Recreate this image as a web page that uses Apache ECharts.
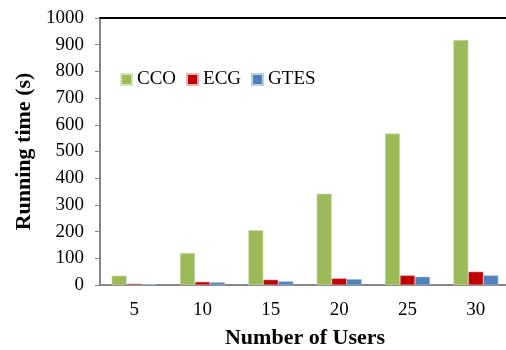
<!DOCTYPE html>
<html>
<head>
<meta charset="utf-8">
<script src="https://cdn.jsdelivr.net/npm/echarts@6/dist/echarts.min.js"></script>
<style>
  html, body { margin: 0; padding: 0; background: #fff; }
  #chart { width: 506px; height: 350px; }
</style>
</head>
<body>
<div id="chart"></div>
<script>
  /** Data */
  var users = ['5', '10', '15', '20', '25', '30'];
  var cco = [35, 120, 205, 342, 567, 918];
  var ecg = [5, 12, 20, 25, 36, 50];
  var gtes = [3, 10, 14, 22, 31, 36];

  var font = 'Liberation Serif';

  /** Chart */
  var chart = echarts.init(document.getElementById('chart'));
  var option = {
    animation: false,
    textStyle: { fontFamily: font },
    grid: { left: 100, top: 18, width: 410, height: 267, outerBoundsMode: 'none', containLabel: false },
    legend: {
      left: 115,
      top: 65,
      itemWidth: 11,
      itemHeight: 11,
      itemGap: 10,
      icon: 'rect',
      textStyle: { fontFamily: font, fontSize: 19, color: '#000' },
      data: ['CCO', 'ECG', 'GTES']
    },
    xAxis: [
      {
        type: 'category',
        data: users,
        name: 'Number of Users',
        nameLocation: 'middle',
        nameGap: 42,
        nameTextStyle: { fontFamily: font, fontSize: 22, fontWeight: 'bold', color: '#000' },
        axisLine: { lineStyle: { color: '#868686', width: 2 } },
        axisTick: { length: 6, lineStyle: { color: '#868686', width: 2 } },
        axisLabel: { fontFamily: font, fontSize: 19, color: '#000', margin: 16 }
      },
      {
        type: 'category',
        data: users,
        position: 'top',
        axisLine: { lineStyle: { color: '#000', width: 2 } },
        axisTick: { show: false },
        axisLabel: { show: false }
      }
    ],
    yAxis: {
      type: 'value',
      min: 0,
      max: 1000,
      interval: 100,
      name: 'Running time (s)',
      nameLocation: 'middle',
      nameGap: 60,
      nameTextStyle: { fontFamily: font, fontSize: 22, fontWeight: 'bold', color: '#000' },
      splitLine: { show: false },
      axisLine: { show: true, lineStyle: { color: '#868686', width: 2 } },
      axisTick: { show: true, length: 5, lineStyle: { color: '#868686', width: 1 } },
      axisLabel: {
        fontFamily: font, fontSize: 19, color: '#000', margin: 16,
        formatter: function (v) { return String(v); }
      }
    },
    series: [
      {
        name: 'CCO', type: 'bar', data: cco,
        barWidth: 15, barGap: '0%',
        itemStyle: { color: '#9BBB59', borderColor: '#D7E4BD', borderWidth: 0.5 }
      },
      {
        name: 'ECG', type: 'bar', data: ecg,
        barWidth: 15, barGap: '0%',
        itemStyle: { color: '#C00000', borderColor: '#E6B9B8', borderWidth: 0.5 }
      },
      {
        name: 'GTES', type: 'bar', data: gtes,
        barWidth: 15, barGap: '0%',
        itemStyle: { color: '#4F81BD', borderColor: '#B9CDE5', borderWidth: 0.5 }
      }
    ]
  };
  chart.setOption(option);
</script>
</body>
</html>
